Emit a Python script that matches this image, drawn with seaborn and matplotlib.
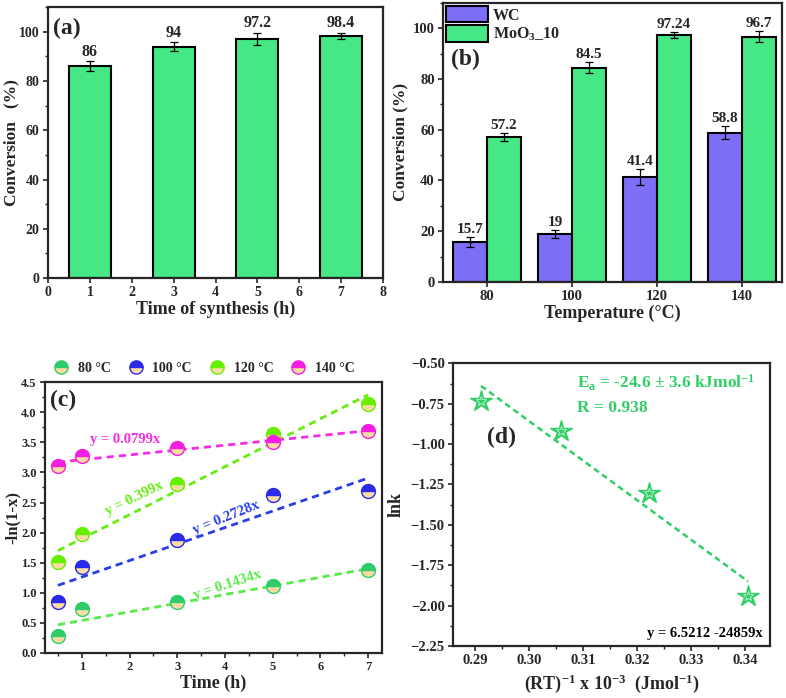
import numpy as np
import pandas as pd
import matplotlib
matplotlib.use("Agg")
import matplotlib.pyplot as plt
import seaborn as sns

# ---------------- data ----------------
# (a) conversion vs time of synthesis
synth_time = [1, 3, 5, 7]
synth_conv = [86, 94, 97.2, 98.4]
synth_err = [2.0, 1.7, 2.5, 1.3]
synth_lbl = ["86", "94", "97.2", "98.4"]

# (b) conversion vs temperature
temps = ["80", "100", "120", "140"]
wc_conv = [15.7, 19, 41.4, 58.8]
wc_err = [2.0, 1.5, 3.0, 2.5]
wc_lbl = ["15.7", "19", "41.4", "58.8"]
moo_conv = [57.2, 84.5, 97.24, 96.7]
moo_err = [1.5, 2.0, 1.3, 2.0]
moo_lbl = ["57.2", "84.5", "97.24", "96.7"]

# (c) kinetics -ln(1-x) vs time
kin_time = [0.5, 1, 3, 5, 7]
kin_80 = [0.28, 0.73, 0.85, 1.11, 1.38]
kin_100 = [0.85, 1.43, 1.87, 2.62, 2.69]
kin_120 = [1.52, 1.97, 2.81, 3.64, 4.14]
kin_140 = [3.10, 3.27, 3.41, 3.51, 3.69]
kin_labels = ["80 °C", "100 °C", "120 °C", "140 °C"]
fit_texts = ["y = 0.1434x", "y = 0.2728x", "y = 0.399x", "y = 0.0799x"]

# (d) Arrhenius
inv_rt = [0.2911, 0.3059, 0.3223, 0.3406]
ln_k = [-0.735, -0.92, -1.30, -1.94]

# ---------------- style ----------------
sns.set_style("ticks")
plt.rcParams['font.family'] = ['Liberation Serif', 'DejaVu Serif']
plt.rcParams['font.weight'] = 'bold'
plt.rcParams['axes.labelweight'] = 'bold'
plt.rcParams['mathtext.fontset'] = 'custom'
plt.rcParams['mathtext.rm'] = 'Liberation Serif:bold'
plt.rcParams['mathtext.it'] = 'Liberation Serif:bold:italic'
plt.rcParams['mathtext.bf'] = 'Liberation Serif:bold'
plt.rcParams['axes.linewidth'] = 1.6
plt.rcParams['xtick.major.width'] = 1.2
plt.rcParams['ytick.major.width'] = 1.2
plt.rcParams['xtick.minor.width'] = 1.0
plt.rcParams['ytick.minor.width'] = 1.0
plt.rcParams['xtick.major.size'] = 3.5
plt.rcParams['ytick.major.size'] = 3.5
plt.rcParams['xtick.minor.size'] = 2.2
plt.rcParams['ytick.minor.size'] = 2.2
plt.rcParams['xtick.major.pad'] = 2.5
plt.rcParams['ytick.major.pad'] = 2.5

GREEN_BAR = "#45e884"
PURPLE = "#7d6ef8"
PEACH = "#fbdca4"
C80, C100, C120, C140 = "#2ecc6a", "#2a2ae8", "#66f000", "#f41ee0"
L80, L100, L120, L140 = "#55ec44", "#2a3ee8", "#66ee11", "#f42ee0"
D_GREEN = "#2fcf66"

PANEL_FS = 17

fig = plt.figure(figsize=(7.86, 6.98), dpi=100)
ax_a = fig.add_axes([0.0611, 0.6017, 0.4262, 0.388])
ax_b = fig.add_axes([0.5636, 0.5960, 0.431, 0.400])
ax_c = fig.add_axes([0.0573, 0.0645, 0.4288, 0.388])
ax_d = fig.add_axes([0.5763, 0.0745, 0.403, 0.405])


def style_ticks(ax, fs=10.5):
    for lab in ax.get_xticklabels() + ax.get_yticklabels():
        lab.set_fontweight('bold')
        lab.set_fontsize(fs)


# ---------------- (a) ----------------
df_a = pd.DataFrame({"time": synth_time, "conv": synth_conv})
sns.barplot(data=df_a, x="time", y="conv", native_scale=True, width=0.5,
            color=GREEN_BAR, edgecolor="black", linewidth=1.5, saturation=1,
            errorbar=None, ax=ax_a)
for bar, e, lbl in zip(ax_a.patches, synth_err, synth_lbl):
    cx = bar.get_x() + bar.get_width() / 2
    h = bar.get_height()
    ax_a.errorbar(cx, h, yerr=e, color="black", capsize=3, lw=0.9, capthick=0.9)
    ax_a.text(cx, h + e + 0.6, lbl, ha="center", va="bottom",
              fontsize=11.5, fontweight="bold")
ax_a.set_xlim(0, 8)
ax_a.set_ylim(0, 110)
ax_a.set_xticks(range(0, 9))
ax_a.set_yticks(range(0, 101, 20))
ax_a.yaxis.set_minor_locator(matplotlib.ticker.MultipleLocator(10))
ax_a.set_xlabel("Time of synthesis (h)", fontsize=13, labelpad=1)
ax_a.set_ylabel("Conversion   (%)", fontsize=12.5)
ax_a.yaxis.set_label_coords(-0.085, 0.5)
ax_a.text(0.12, 101.5, "(a)", fontsize=PANEL_FS, fontweight="bold", va="center")
style_ticks(ax_a, fs=10)

# ---------------- (b) ----------------
df_b = pd.DataFrame({
    "temp": temps * 2,
    "conv": wc_conv + moo_conv,
    "cat": ["WC"] * 4 + ["MoO$_{3}$_10"] * 4,
})
sns.barplot(data=df_b, x="temp", y="conv", hue="cat",
            palette=[PURPLE, GREEN_BAR], edgecolor="black", linewidth=1.5,
            saturation=1, errorbar=None, ax=ax_b)
for cont, errs, lbls in zip(ax_b.containers, [wc_err, moo_err], [wc_lbl, moo_lbl]):
    for bar, e, lbl in zip(cont, errs, lbls):
        cx = bar.get_x() + bar.get_width() / 2
        h = bar.get_height()
        ax_b.errorbar(cx, h, yerr=e, color="black", capsize=3, lw=0.9, capthick=0.9)
        ax_b.text(cx, h + e + 0.4, lbl, ha="center", va="bottom",
                  fontsize=11, fontweight="bold")
ax_b.set_xlim(-0.52, 3.47)
ax_b.set_ylim(0, 110)
ax_b.set_yticks(range(0, 101, 20))
ax_b.yaxis.set_minor_locator(matplotlib.ticker.MultipleLocator(10))
ax_b.set_xlabel("Temperature (°C)", fontsize=13, labelpad=1)
ax_b.set_ylabel("Conversion (%)", fontsize=12.5, labelpad=3)
ax_b.legend(loc="upper left", frameon=False, fontsize=11.5, handlelength=2.6,
            handleheight=1.2, borderaxespad=0.1, handletextpad=0.3,
            labelspacing=0.12, borderpad=0.1)
ax_b.text(-0.42, 87.5, "(b)", fontsize=PANEL_FS, fontweight="bold", va="center")
style_ticks(ax_b)

# ---------------- (c) ----------------
series = [kin_80, kin_100, kin_120, kin_140]
mk_cols = [C80, C100, C120, C140]
ln_cols = [L80, L100, L120, L140]
handles = []
for ys, lc in zip(series, ln_cols):
    sns.regplot(x=kin_time, y=ys, ci=None, scatter=False, truncate=True,
                line_kws={"color": lc, "lw": 2.0, "ls": (0, (2.6, 1.8))},
                ax=ax_c)
for ys, mc, lab in zip(series, mk_cols, kin_labels):
    h, = ax_c.plot(kin_time, ys, "o", ms=10, fillstyle="top", mfc=mc,
                   markerfacecoloralt=PEACH, mec=mc, mew=1.0, label=lab,
                   zorder=5)
    handles.append(h)
ax_c.set_xlim(0.23, 7.29)
ax_c.set_ylim(0, 4.5)
ax_c.set_xticks(range(1, 8))
ax_c.xaxis.set_minor_locator(matplotlib.ticker.MultipleLocator(0.5))
ax_c.set_yticks(np.arange(0, 4.51, 0.5))
ax_c.yaxis.set_major_formatter(matplotlib.ticker.FormatStrFormatter("%.1f"))
ax_c.yaxis.set_minor_locator(matplotlib.ticker.MultipleLocator(0.25))
ax_c.set_xlabel("Time (h)", fontsize=13, labelpad=1)
ax_c.set_ylabel("-ln(1-x)", fontsize=12)
ax_c.yaxis.set_label_coords(-0.0714, 0.5)
ax_c.legend(handles=handles, loc="lower left", bbox_to_anchor=(0.0, 1.0),
            ncol=4, frameon=False, fontsize=10, handletextpad=0.6,
            columnspacing=1.2, borderaxespad=0.15, handlelength=1.2,
            markerscale=0.95)
ax_c.text(0.33, 4.2, "(c)", fontsize=PANEL_FS, fontweight="bold", va="center")
ax_c.text(1.9, 3.54, fit_texts[3], color=L140, fontsize=10.5, ha="center",
          va="center", fontweight="bold")
ax_c.text(2.1, 2.57, fit_texts[2], color=L120, fontsize=10.5, ha="center",
          va="center", fontweight="bold", rotation=26)
ax_c.text(4.02, 2.24, fit_texts[1], color=L100, fontsize=10.5, ha="center",
          va="center", fontweight="bold", rotation=22)
ax_c.text(4.06, 1.13, fit_texts[0], color=L80, fontsize=10.5, ha="center",
          va="center", fontweight="bold", rotation=18)
style_ticks(ax_c, fs=9)

# ---------------- (d) ----------------
sns.regplot(x=inv_rt, y=ln_k, ci=None, scatter=False, truncate=True,
            line_kws={"color": D_GREEN, "lw": 1.8, "ls": (0, (2.4, 1.6))},
            ax=ax_d)
ax_d.plot(inv_rt, ln_k, "*", ms=16, color=D_GREEN, mec=D_GREEN, zorder=5)
ax_d.plot(inv_rt, ln_k, "*", ms=7, mfc="none", mec="#c4f2d2", mew=0.6, zorder=6)
ax_d.set_xlim(0.2859, 0.3446)
ax_d.set_ylim(-2.25, -0.5)
ax_d.set_xticks(np.arange(0.29, 0.3401, 0.01))
ax_d.xaxis.set_major_formatter(matplotlib.ticker.FormatStrFormatter("%.2f"))
ax_d.xaxis.set_minor_locator(matplotlib.ticker.MultipleLocator(0.005))
ax_d.set_yticks(np.arange(-2.25, -0.49, 0.25))
ax_d.yaxis.set_minor_locator(matplotlib.ticker.MultipleLocator(0.125))
ax_d.set_xlabel("(RT)$^{-1}$ x 10$^{-3}$  (Jmol$^{-1}$)", fontsize=13,
                labelpad=4)
ax_d.set_ylabel("lnk", fontsize=13, labelpad=4)
ax_d.text(0.2922, -0.96, "(d)", fontsize=PANEL_FS, fontweight="bold", va="center")
ax_d.text(0.3089, -0.62, r"E$_{\mathrm{a}}$ = -24.6 ± 3.6 kJmol$^{-1}$",
          color=D_GREEN, fontsize=12.5, fontweight="bold", va="center")
ax_d.text(0.3089, -0.777, "R = 0.938", color=D_GREEN, fontsize=12.5,
          fontweight="bold", va="center")
ax_d.text(0.3433, -2.17, "y = 6.5212 -24859x", color="black", fontsize=10.5,
          fontweight="bold", ha="right", va="center")
style_ticks(ax_d)

fig.savefig("out.png", dpi=100)
